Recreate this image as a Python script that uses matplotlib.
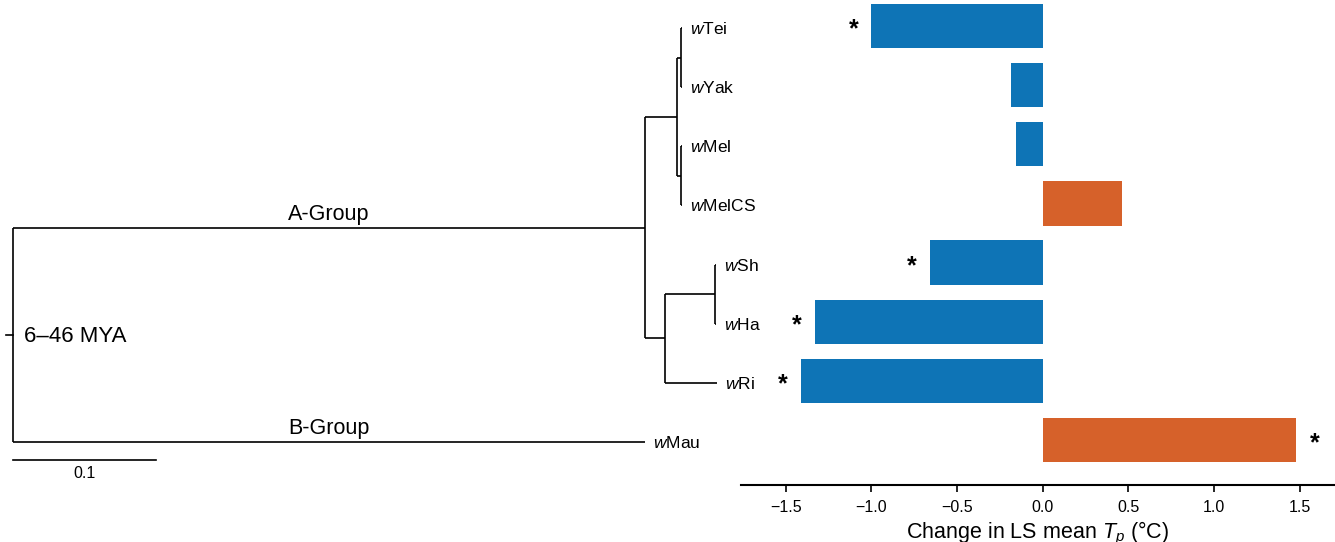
import matplotlib
matplotlib.use("Agg")
import matplotlib.pyplot as plt
import numpy as np

plt.rcParams['font.family'] = ['Liberation Sans', 'DejaVu Sans']
plt.rcParams['mathtext.fontset'] = 'custom'
plt.rcParams['mathtext.rm'] = 'Liberation Sans'
plt.rcParams['mathtext.it'] = 'Liberation Sans:italic'

# ---------------- data ----------------
strains = ['wTei', 'wYak', 'wMel', 'wMelCS', 'wSh', 'wHa', 'wRi', 'wMau']
change_tp = [-1.00, -0.185, -0.155, 0.46, -0.66, -1.33, -1.41, 1.48]
significant = [True, False, False, False, True, True, True, True]
x_ticks = [-1.5, -1.0, -0.5, 0.0, 0.5, 1.0, 1.5]
# phylogeny (branch lengths in substitutions/site)
newick = ("((((wTei:0.0007,wYak:0.0007):0.0028,(wMel:0.0007,wMelCS:0.0007):0.0028):0.0224,"
          "((wSh:0.0005,wHa:0.0005):0.035,wRi:0.0364):0.014):0.442,wMau:0.442);")
group_labels = ['A-Group', 'B-Group']
root_label = '6–46 MYA'
scale_len = 0.1

BLUE = '#0E74B6'
ORANGE = '#D6612A'


def parse(s):
    pos = 0

    def node():
        nonlocal pos
        children = []
        if s[pos] == '(':
            pos += 1
            while True:
                children.append(node())
                if s[pos] == ',':
                    pos += 1
                    continue
                if s[pos] == ')':
                    pos += 1
                    break
                raise ValueError('bad newick at %d' % pos)
        start = pos
        while s[pos] not in ':,);':
            pos += 1
        name = s[start:pos]
        bl = 0.0
        if s[pos] == ':':
            pos += 1
            start = pos
            while s[pos] not in ',);':
                pos += 1
            bl = float(s[start:pos])
        return {'name': name, 'bl': bl, 'children': children}

    return node()


tree = parse(newick)

W, H = 1335, 542
fig = plt.figure(figsize=(W / 100, H / 100), dpi=100)

# ---------------- tree axes ----------------
axt = fig.add_axes([0, 0, 1, 1])
axt.set_axis_off()
px_per_unit = 1430.0
x0_px = 13
tip_y0, tip_dy = 28, 59.14
axt.set_xlim((0 - x0_px) / px_per_unit, (W - x0_px) / px_per_unit)
axt.set_ylim((H - tip_y0) / tip_dy, (0 - tip_y0) / tip_dy)

lw = 1.2
tip_index = {n: i for i, n in enumerate(strains)}


def layout(nd, x_parent):
    x = x_parent + nd['bl']
    nd['x'] = x
    if nd['children']:
        ys = [layout(c, x) for c in nd['children']]
        nd['y'] = (min(ys) + max(ys)) / 2
        axt.plot([x, x], [min(ys), max(ys)], color='black', lw=lw, solid_capstyle='butt')
    else:
        nd['y'] = tip_index[nd['name']]
    axt.plot([x_parent, x], [nd['y'], nd['y']], color='black', lw=lw, solid_capstyle='butt')
    return nd['y']


layout(tree, 0.0)
# root stub
axt.plot([-7 / px_per_unit, 0], [tree['y'], tree['y']], color='black', lw=lw)


def tips(nd):
    if not nd['children']:
        yield nd
    for c in nd['children']:
        yield from tips(c)


for t in tips(tree):
    name = t['name']
    lab = r'$\mathit{w}$' + name[1:]
    axt.annotate(lab, (t['x'], t['y']), xytext=(8, -1), textcoords='offset pixels',
                 ha='left', va='center', fontsize=12.5)

# group labels on the two root branches
for child, lab in zip(tree['children'], group_labels):
    axt.annotate(lab, (child['x'] / 2, child['y']), xytext=(0, 3), textcoords='offset pixels',
                 ha='center', va='bottom', fontsize=15.5)

axt.annotate(root_label, (0, tree['y']), xytext=(11, -2), textcoords='offset pixels',
             ha='left', va='center', fontsize=16)

# scale bar
sb_y = (460 - tip_y0) / tip_dy
axt.plot([0, scale_len], [sb_y, sb_y], color='black', lw=lw)
axt.annotate(f'{scale_len:g}', (scale_len / 2, sb_y), xytext=(0, -6), textcoords='offset pixels',
             ha='center', va='top', fontsize=11.5)

# ---------------- bar axes ----------------
axb = fig.add_axes([741 / W, 1 - 485 / H, 1 - 741 / W, 485 / H])
axb.patch.set_alpha(0)
y = np.arange(len(strains))
colors = [BLUE if v < 0 else ORANGE for v in change_tp]
axb.barh(y, change_tp, height=0.75, color=colors)
bar_y0 = 26
axb.set_ylim((485 - bar_y0) / tip_dy, (0 - bar_y0) / tip_dy)
zero_px = 1042.7
ppu = 171.4
axb.set_xlim((741 - zero_px) / ppu, (W - zero_px) / ppu)

for yi, v, s in zip(y, change_tp, significant):
    if s:
        off = -0.105 if v < 0 else 0.105
        axb.text(v + off, yi + 0.06, '*', ha='center', va='center', fontsize=18, fontweight='bold')

for sp in ['left', 'right', 'top']:
    axb.spines[sp].set_visible(False)
axb.spines['bottom'].set_linewidth(1.5)
axb.set_yticks([])
axb.set_xticks(x_ticks)
axb.set_xticklabels([f'{t:.1f}'.replace('-', '\u2212') for t in x_ticks], fontsize=11.5)
axb.tick_params(axis='x', length=5, width=1.2, pad=6)
axb.set_xlabel(r'Change in LS mean $T_p$ (°C)', fontsize=15.5, labelpad=3)

fig.savefig('out.png', dpi=100)
